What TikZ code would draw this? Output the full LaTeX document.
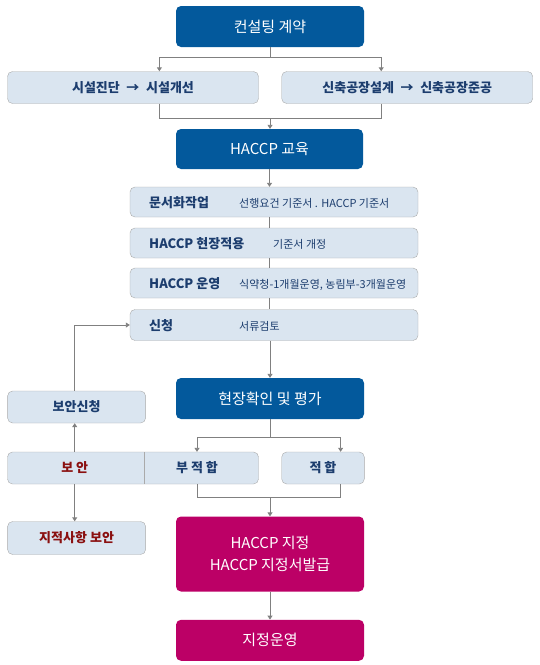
\documentclass[tikz,border=0pt]{standalone}
\usepackage{fontspec}
\setmainfont{Noto Sans CJK KR}
\usetikzlibrary{arrows.meta}
\definecolor{navyfill}{RGB}{3,89,156}
\definecolor{pinkfill}{RGB}{188,0,102}
\definecolor{litefill}{RGB}{218,229,240}
\definecolor{boxline}{RGB}{170,170,170}
\definecolor{navytext}{RGB}{28,61,110}
\definecolor{fixred}{RGB}{138,16,16}
\definecolor{linegrey}{RGB}{128,128,128}
\begin{document}
\begin{tikzpicture}[x=1pt,y=-1pt,
  darkbox/.style={fill=navyfill,text=white,rounded corners=5pt,inner sep=0pt,align=center,font=\fontsize{15}{22}\selectfont},
  pinkbox/.style={darkbox,fill=pinkfill},
  litebox/.style={draw=boxline,fill=litefill,rounded corners=5pt,inner sep=0pt,text=navytext,font=\fontsize{13}{15}\selectfont\bfseries},
  subtext/.style={inner sep=0pt,text=navytext,font=\fontsize{11}{13}\selectfont},
  labeltext/.style={inner sep=0pt,text=navytext,font=\fontsize{13}{15}\selectfont\bfseries},
  conn/.style={draw=linegrey,line width=0.9pt},
  connarr/.style={conn,-{Triangle[width=5pt,length=4pt]}}]
\useasboundingbox (0,0) rectangle (540,665);
% upper part
\node[darkbox,minimum width=188,minimum height=41] (contract) at (270,26.5) {컨설팅 계약};
\node[litebox,minimum width=251,minimum height=32] (diag) at (133,87.5) {시설진단 \;→\; 시설개선};
\node[litebox,minimum width=251,minimum height=32] (newf) at (407.2,87.5) {신축공장설계 \;→\; 신축공장준공};
\node[darkbox,minimum width=187,minimum height=40] (edu) at (269.5,149) {HACCP 교육};
\coordinate (split1) at (270,57);
\coordinate (join1) at (270,118);
\draw[conn] (contract) -- (split1);
\draw[connarr] (split1) -| ([xshift=26.4pt]diag.north);
\draw[connarr] (split1) -| ([xshift=-26pt]newf.north);
\draw[conn] ([xshift=26.4pt]diag.south) |- (join1);
\draw[conn] ([xshift=-26pt]newf.south) |- (join1);
\draw[connarr] (join1) -- (join1 |- edu.north);
% stacked steps
\node[litebox,minimum width=288,minimum height=30] (doc) at (274,202) {};
\node[litebox,minimum width=288,minimum height=30] (site) at (274,243) {};
\node[litebox,minimum width=288,minimum height=30] (oper) at (274,283) {};
\node[litebox,minimum width=288,minimum height=31] (apply) at (274,325) {};
\node[labeltext,anchor=base west] (docl) at (149,207) {문서화작업};
\node[subtext,anchor=base west] (docs) at (239,207) {선행요건 기준서 . HACCP 기준서};
\node[labeltext,anchor=base west] (sitel) at (149,248) {HACCP 현장적용};
\node[subtext,anchor=base west] (sites) at (273,248) {기준서 개정};
\node[labeltext,anchor=base west] (operl) at (149,288) {HACCP 운영};
\node[subtext,anchor=base west] (opers) at (239,288) {식약청-1개월운영, 농림부-3개월운영};
\node[labeltext,anchor=base west] (applyl) at (149,330) {신청};
\node[subtext,anchor=base west] (applys) at (239,330) {서류검토};
\draw[connarr] (edu.south) -- (edu.south |- doc.north);
\draw[conn] (edu.south |- doc.south) -- (edu.south |- site.north);
\draw[conn] (edu.south |- site.south) -- (edu.south |- oper.north);
\draw[conn] (edu.south |- oper.south) -- (edu.south |- apply.north);
% evaluation
\node[darkbox,minimum width=188,minimum height=41] (eval) at (270,398.5) {현장확인 및 평가};
\draw[connarr] (eval.north |- apply.south) -- (eval.north);
\node[litebox,minimum width=251,minimum height=32] (fail) at (133,468) {};
\draw[draw=boxline,line width=0.8pt] (144.6,452) -- (144.6,484);
\node[labeltext,text=fixred] (fix) at (74.7,468) {보 안};
\node[labeltext] (unfit) at (197,468) {부 적 합};
\node[litebox,minimum width=82.6,minimum height=32] (fit) at (323,468) {적 합};
\node[litebox,minimum width=138,minimum height=32] (fixreq) at (76.6,407) {보안신청};
\node[litebox,minimum width=138,minimum height=33,text=fixred] (remark) at (76.6,538) {지적사항 보안};
\coordinate (split2) at (270,437.4);
\coordinate (join2) at (270,497.7);
\draw[conn] (eval) -- (split2);
\draw[connarr] (split2) -| (unfit |- fail.north);
\draw[connarr] (split2) -| ([xshift=17.6pt]fit.north);
\draw[conn] (unfit |- fail.south) |- (join2);
\draw[conn] ([xshift=17.6pt]fit.south) |- (join2);
\draw[connarr] (fix |- fail.north) -- (fix |- fixreq.south);
\draw[connarr] (fix |- fixreq.north) |- (apply.west);
\draw[connarr] (fix |- fail.south) -- (fix |- remark.north);
% designation
\node[pinkbox,minimum width=188,minimum height=75] (cert) at (270,554) {HACCP 지정\\HACCP 지정서발급};
\node[pinkbox,minimum width=188,minimum height=41] (run) at (270,640.3) {지정운영};
\draw[connarr] (join2) -- (join2 |- cert.north);
\draw[connarr] (cert) -- (run);
\end{tikzpicture}
\end{document}
